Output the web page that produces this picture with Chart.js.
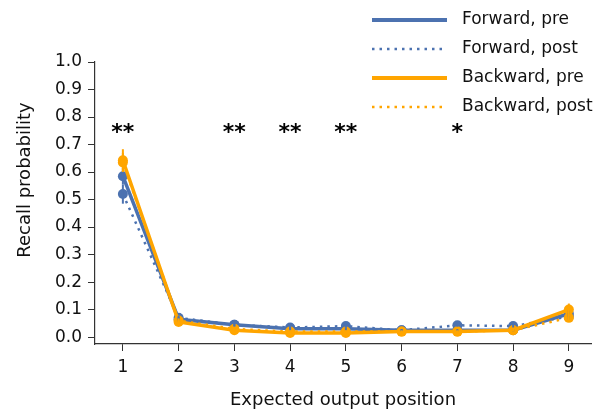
<!DOCTYPE html>
<html>
<head>
<meta charset="utf-8">
<script src="https://cdn.jsdelivr.net/npm/chart.js@4"></script>
<style>
  html, body { margin: 0; padding: 0; background: #fff; }
  #wrap { width: 596px; height: 411px; }
</style>
</head>
<body>
<div id="wrap"><canvas id="chart" width="596" height="411"></canvas></div>
<script>
// data
const positions = [1, 2, 3, 4, 5, 6, 7, 8, 9];
const forwardPre = [0.585, 0.065, 0.045, 0.030, 0.030, 0.025, 0.025, 0.025, 0.085];
const forwardPost = [0.520, 0.070, 0.045, 0.035, 0.040, 0.025, 0.043, 0.040, 0.075];
const backwardPre = [0.643, 0.055, 0.025, 0.015, 0.015, 0.020, 0.020, 0.025, 0.100];
const backwardPost = [0.635, 0.060, 0.030, 0.020, 0.020, 0.020, 0.020, 0.025, 0.070];
const forwardPreErr = [0.030, 0.008, 0.006, 0.005, 0.005, 0.004, 0.004, 0.004, 0.012];
const forwardPostErr = [0.035, 0.008, 0.006, 0.005, 0.006, 0.004, 0.005, 0.005, 0.012];
const backwardPreErr = [0.040, 0.008, 0.005, 0.004, 0.004, 0.004, 0.004, 0.004, 0.022];
const backwardPostErr = [0.035, 0.008, 0.005, 0.004, 0.004, 0.004, 0.004, 0.004, 0.012];
const stars = ['**', '', '**', '**', '**', '', '*', '', ''];
const starLevel = 0.745;
const yTicks = [0, 0.1, 0.2, 0.3, 0.4, 0.5, 0.6, 0.7, 0.8, 0.9, 1.0];

const BLUE = '#4c72b0';
const ORANGE = '#ffa500';
const FONT = 'DejaVu Sans';

function series(label, values, errs, color, dotted, order) {
  return {
    label: label,
    data: positions.map((p, i) => ({ x: p, y: values[i] })),
    errs: errs,
    borderColor: color,
    backgroundColor: color,
    borderWidth: dotted ? 2.5 : 3.5,
    borderDash: dotted ? [2.5, 5] : [],
    pointRadius: 5,
    pointBorderWidth: 0,
    pointBackgroundColor: color,
    dotted: dotted,
    order: order
  };
}

// error bars + significance stars + legend + y title
const extras = {
  id: 'extras',
  afterDatasetsDraw(chart) {
    const ctx = chart.ctx;
    const xs = chart.scales.x, ys = chart.scales.y;
    ctx.save();
    chart.data.datasets.forEach((ds) => {
      ctx.strokeStyle = ds.borderColor;
      ctx.lineWidth = 2;
      ds.data.forEach((pt, i) => {
        const px = xs.getPixelForValue(pt.x);
        ctx.beginPath();
        ctx.moveTo(px, ys.getPixelForValue(pt.y - ds.errs[i]));
        ctx.lineTo(px, ys.getPixelForValue(pt.y + ds.errs[i]));
        ctx.stroke();
      });
    });
    ctx.fillStyle = '#000';
    ctx.font = 'bold 22px ' + FONT;
    ctx.textAlign = 'center';
    ctx.textBaseline = 'middle';
    stars.forEach((s, i) => {
      if (s) ctx.fillText(s, xs.getPixelForValue(positions[i]), ys.getPixelForValue(starLevel) + 1);
    });
    // legend
    ctx.font = '17px ' + FONT;
    ctx.textAlign = 'left';
    chart.data.datasets.forEach((ds, k) => {
      const y = 20 + k * 29;
      ctx.strokeStyle = ds.borderColor;
      ctx.lineWidth = ds.dotted ? 2.5 : 4;
      ctx.setLineDash(ds.dotted ? [2.5, 5] : []);
      ctx.beginPath();
      ctx.moveTo(372, y);
      ctx.lineTo(447, y);
      ctx.stroke();
      ctx.setLineDash([]);
      ctx.fillStyle = '#111';
      ctx.fillText(ds.label, 462, y);
    });
    // y axis title
    ctx.translate(25, 180);
    ctx.rotate(-Math.PI / 2);
    ctx.textAlign = 'center';
    ctx.font = '18px ' + FONT;
    ctx.fillText('Recall probability', 0, 0);
    ctx.restore();
  }
};

new Chart(document.getElementById('chart'), {
  type: 'line',
  data: {
    datasets: [
      series('Forward, pre', forwardPre, forwardPreErr, BLUE, false, 2),
      series('Forward, post', forwardPost, forwardPostErr, BLUE, true, 3),
      series('Backward, pre', backwardPre, backwardPreErr, ORANGE, false, 0),
      series('Backward, post', backwardPost, backwardPostErr, ORANGE, true, 1)
    ]
  },
  options: {
    responsive: false,
    animation: false,
    layout: { padding: { top: 62, right: 0, left: 0, bottom: 0 } },
    plugins: { legend: { display: false }, tooltip: { enabled: false } },
    scales: {
      x: {
        type: 'linear',
        min: 0.5,
        max: 9.397,
        afterBuildTicks: (axis) => { axis.ticks = positions.map(v => ({ value: v })); },
        afterFit: (scale) => { scale.height = 67; },
        grid: { drawOnChartArea: false, drawTicks: true, tickLength: 7, color: '#333' },
        border: { display: true, color: '#333', width: 1.2 },
        ticks: { color: '#111', font: { family: FONT, size: 17 }, padding: 6 },
        title: { display: true, text: 'Expected output position', color: '#111', font: { family: FONT, size: 18 }, padding: { top: 10, bottom: 0 } }
      },
      y: {
        min: -0.025,
        max: 1.0,
        afterBuildTicks: (axis) => { axis.ticks = yTicks.map(v => ({ value: v })); },
        afterFit: (scale) => { scale.width = 95; },
        grid: { drawOnChartArea: false, drawTicks: true, tickLength: 7, color: '#333' },
        border: { display: true, color: '#333', width: 1.2 },
        ticks: { color: '#111', font: { family: FONT, size: 17 }, padding: 6, callback: (v) => v.toFixed(1) }
      }
    }
  },
  plugins: [extras]
});
</script>
</body>
</html>
